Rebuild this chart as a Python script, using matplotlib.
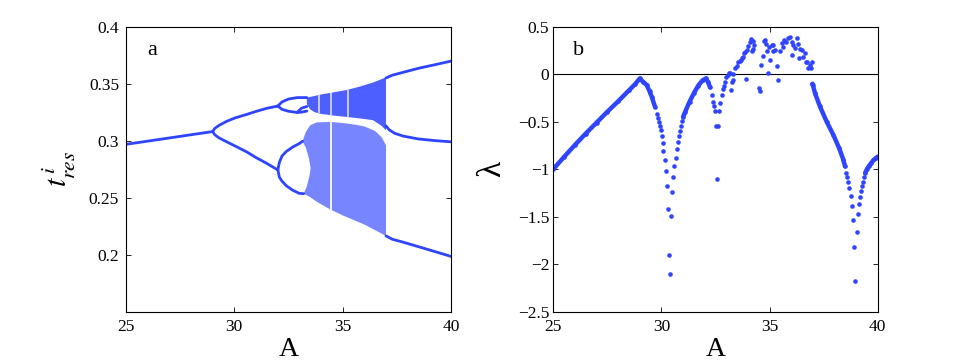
import matplotlib
matplotlib.use('Agg')
import matplotlib.pyplot as plt
import numpy as np
from matplotlib.ticker import FuncFormatter

plt.rcParams['font.family'] = ['Liberation Serif', 'DejaVu Serif']
plt.rcParams['mathtext.fontset'] = 'stix'

BLUE = '#2e44ff'

# ---- panel a : bifurcation diagram (A, t_res) ----
p1_A = [25, 26, 27, 28, 29]
p1_v = [0.2968, 0.2996, 0.3024, 0.3052, 0.308]

p2_up_A = [29, 29.1, 29.3, 29.65, 30.04, 30.58, 31.01, 31.5, 32.01]
p2_up_v = [0.308, 0.3108, 0.3135, 0.3170, 0.3200, 0.3231, 0.3257, 0.3284, 0.3304]
p2_lo_A = [29, 29.1, 29.3, 29.65, 30.04, 30.58, 31.01, 31.5, 32.01]
p2_lo_v = [0.308, 0.3052, 0.3024, 0.2990, 0.2953, 0.2901, 0.2851, 0.2801, 0.2743]

# period 4 near the upper branch (little loop)
p4a_up_A = [32.01, 32.2, 32.5, 32.9, 33.35]
p4a_up_v = [0.3304, 0.3340, 0.3365, 0.3378, 0.3378]
p4a_lo_A = [32.01, 32.2, 32.5, 32.9, 33.1, 33.35]
p4a_lo_v = [0.3304, 0.3275, 0.3258, 0.3248, 0.3250, 0.3260]
p8a_A = [32.9, 33.1, 33.35]
p8a_v = [0.3248, 0.3285, 0.3300]

# period 4 near the lower branch
p4b_up_A = [32.01, 32.08, 32.2, 32.4, 32.7, 33.0, 33.15]
p4b_up_v = [0.2745, 0.2810, 0.2865, 0.2905, 0.2945, 0.2975, 0.2995]
p4b_lo_A = [32.01, 32.08, 32.2, 32.4, 32.7, 33.0, 33.2]
p4b_lo_v = [0.2745, 0.2680, 0.2645, 0.2605, 0.2565, 0.2538, 0.2535]

# chaotic bands (outlines)
ub_top_A = [33.35, 33.6, 34.0, 34.6, 35.2, 35.8, 36.4, 37.0]
ub_top_v = [0.3378, 0.3388, 0.3405, 0.3425, 0.3445, 0.3475, 0.3510, 0.3555]
ub_bot_A = [33.35, 33.5, 33.7, 34.0, 34.6, 35.2, 35.8, 36.4, 36.8, 37.0]
ub_bot_v = [0.3320, 0.3275, 0.3250, 0.3235, 0.3220, 0.3208, 0.3195, 0.3180, 0.3130, 0.3090]

lb_top_A = [33.15, 33.3, 33.5, 33.8, 34.4, 35.0, 35.6, 36.0, 36.5, 36.8, 37.0]
lb_top_v = [0.2995, 0.3075, 0.3135, 0.3160, 0.3165, 0.3155, 0.3140, 0.3125, 0.3085, 0.3030, 0.2960]
lb_bot_A = [33.2, 33.5, 33.8, 34.4, 35.0, 35.5, 36.0, 36.5, 37.0]
lb_bot_v = [0.2535, 0.2505, 0.2465, 0.2400, 0.2345, 0.2305, 0.2265, 0.2215, 0.2165]
lb_left_A = [33.2, 33.35, 33.48, 33.52, 33.45, 33.3, 33.15]
lb_left_v = [0.2535, 0.2600, 0.2700, 0.2760, 0.2840, 0.2940, 0.2995]

# periodic windows (white stripes in the bands)
win_up_A = [33.9, 34.47, 35.27]
win_up_lo = [0.3240, 0.3225, 0.3212]
win_up_hi = [0.3400, 0.3425, 0.3448]
win_lo_A = [34.47]
win_lo_lo = [0.2395]
win_lo_hi = [0.3165]

# period 3 after the crisis
p3_top_A = [37.0, 37.3, 37.7, 38.5, 39.3, 40.0]
p3_top_v = [0.3550, 0.3575, 0.3595, 0.3635, 0.3668, 0.3698]
p3_mid_A = [37.0, 37.15, 37.4, 37.8, 38.5, 39.3, 40.0]
p3_mid_v = [0.3130, 0.3095, 0.3065, 0.3040, 0.3015, 0.3000, 0.2990]
p3_bot_A = [37.0, 37.3, 37.7, 38.5, 39.3, 40.0]
p3_bot_v = [0.2165, 0.2135, 0.2115, 0.2070, 0.2025, 0.1985]

# ---- panel b : Lyapunov exponent ----
dense1_A = [25, 25.5, 26, 26.5, 27, 27.5, 28, 28.5, 28.8, 29.0, 29.15, 29.32, 29.45, 29.55, 29.7]
dense1_l = [-1.0, -0.87, -0.745, -0.625, -0.51, -0.395, -0.285, -0.17, -0.1, -0.045, -0.08, -0.114, -0.18, -0.237, -0.342]
dense2_A = [31.0, 31.1, 31.3, 31.5, 31.7, 31.9, 32.05, 32.15, 32.25]
dense2_l = [-0.45, -0.395, -0.29, -0.2, -0.12, -0.065, -0.045, -0.08, -0.14]
dense3_A = [36.98, 37.0, 37.1, 37.33, 37.64, 37.95, 38.22, 38.41, 38.49]
dense3_l = [-0.10, -0.114, -0.2, -0.34, -0.5, -0.64, -0.78, -0.90, -0.97]
dense4_A = [39.42, 39.5, 39.6, 39.7, 39.8, 39.9, 40.0]
dense4_l = [-1.04, -1.0, -0.965, -0.935, -0.905, -0.885, -0.868]

sparse_pts = [
    (29.78, -0.42), (29.83, -0.46), (29.88, -0.50), (29.93, -0.545), (29.97, -0.59),
    (30.01, -0.65), (30.06, -0.72), (30.09, -0.805), (30.15, -0.90), (30.21, -1.02),
    (30.27, -1.18), (30.32, -1.42), (30.36, -1.90), (30.41, -2.10),
    (30.44, -1.49), (30.50, -1.24), (30.55, -1.08), (30.59, -0.97), (30.66, -0.88),
    (30.70, -0.79), (30.75, -0.71), (30.80, -0.65), (30.84, -0.595), (30.89, -0.545),
    (30.95, -0.495),
    (32.32, -0.22), (32.38, -0.29), (32.44, -0.33), (32.49, -0.39), (32.54, -0.55),
    (32.59, -1.10), (32.63, -0.545), (32.68, -0.39), (32.73, -0.30), (32.78, -0.22),
    (32.83, -0.16), (32.88, -0.12), (32.94, -0.08), (33.0, -0.03), (33.06, -0.01),
    (33.12, 0.01),
]
chaos_pts = [
    (33.17, 0.01), (33.22, -0.166), (33.25, -0.08), (33.29, -0.06), (33.32, 0.0),
    (33.40, 0.06), (33.48, 0.09), (33.55, 0.125), (33.62, 0.14), (33.66, 0.15),
    (33.71, 0.167), (33.76, 0.184), (33.83, 0.22), (33.88, 0.23), (33.91, -0.05),
    (33.94, 0.255), (34.02, 0.30), (34.09, 0.342), (34.14, 0.37), (34.17, 0.244),
    (34.22, 0.35), (34.25, 0.265), (34.29, 0.307), (34.52, -0.142), (34.56, -0.177),
    (34.60, 0.097), (34.68, 0.195), (34.75, 0.35), (34.79, 0.36), (34.82, 0.315),
    (34.87, 0.244), (34.94, 0.01), (34.99, 0.29), (35.02, 0.15), (35.10, 0.307),
    (35.14, 0.244), (35.17, 0.307), (35.25, 0.255), (35.33, 0.086), (35.40, -0.06),
    (35.48, 0.244), (35.56, 0.325), (35.64, 0.29), (35.67, 0.36), (35.76, 0.335),
    (35.86, 0.378), (35.94, 0.395), (36.02, 0.342), (36.05, 0.20), (36.10, 0.307),
    (36.17, 0.273), (36.25, 0.378), (36.33, 0.315), (36.38, 0.17), (36.41, 0.265),
    (36.48, 0.254), (36.56, 0.184), (36.64, 0.22), (36.68, 0.13), (36.72, 0.13),
    (36.79, 0.062), (36.87, 0.096), (36.92, 0.06), (36.96, 0.13),
]
sparse3_pts = [
    (38.53, -1.037), (38.59, -1.08), (38.64, -1.13), (38.69, -1.195), (38.75, -1.28),
    (38.80, -1.387), (38.84, -1.54), (38.90, -1.82), (38.96, -2.18),
    (39.03, -1.66), (39.07, -1.47), (39.12, -1.37), (39.17, -1.29), (39.21, -1.23),
    (39.26, -1.18), (39.30, -1.13), (39.36, -1.085),
]


def style_axes(ax, pad):
    ax.tick_params(direction='in', top=True, right=True, length=3.5, width=0.6,
                   labelsize=12.5, pad=pad)
    for s in ax.spines.values():
        s.set_linewidth(0.8)
    ax.yaxis.set_major_formatter(FuncFormatter(lambda v, p: f'{v:g}'.replace('-', '\u2212')))
    ax.xaxis.set_major_formatter(FuncFormatter(lambda v, p: f'{v:g}'))


fig = plt.figure(figsize=(9.69, 3.64), dpi=100)
ax1 = fig.add_axes([0.1300, 0.1437, 0.3354, 0.7830])
ax2 = fig.add_axes([0.5710, 0.1437, 0.3348, 0.7830])

# panel a
lw = 2.0
for A, v in [(p1_A, p1_v), (p2_up_A, p2_up_v), (p2_lo_A, p2_lo_v),
             (p4a_up_A, p4a_up_v), (p4a_lo_A, p4a_lo_v), (p8a_A, p8a_v),
             (p4b_up_A, p4b_up_v), (p4b_lo_A, p4b_lo_v),
             (p3_top_A, p3_top_v), (p3_mid_A, p3_mid_v), (p3_bot_A, p3_bot_v)]:
    ax1.plot(A, v, color=BLUE, lw=lw, solid_capstyle='round', solid_joinstyle='round')

ub_x = ub_top_A + ub_bot_A[::-1]
ub_y = ub_top_v + ub_bot_v[::-1]
ax1.fill(ub_x, ub_y, color=BLUE, alpha=0.85, lw=0)
lb_x = lb_top_A + lb_bot_A[::-1] + lb_left_A
lb_y = lb_top_v + lb_bot_v[::-1] + lb_left_v
ax1.fill(lb_x, lb_y, color=BLUE, alpha=0.65, lw=0)
ax1.vlines(win_up_A, win_up_lo, win_up_hi, color='white', lw=1.2, alpha=0.8)
ax1.vlines(win_lo_A, win_lo_lo, win_lo_hi, color='white', lw=1.4, alpha=0.9)

ax1.set_xlim(25, 40)
ax1.set_ylim(0.15, 0.4)
ax1.set_xticks([25, 30, 35, 40])
ax1.set_yticks([0.2, 0.25, 0.3, 0.35, 0.4])
style_axes(ax1, 5)
ax1.set_xlabel('A', fontsize=20, labelpad=2)
ax1.set_ylabel(r'$t^{\,i}_{res}$', fontsize=22, labelpad=8)
ax1.text(0.064, 0.90, 'a', transform=ax1.transAxes, fontsize=16, va='baseline')

# panel b
ax2.axhline(0, color='k', lw=0.8, zorder=1)
ms = 3.3
for A, l in [(dense1_A, dense1_l), (dense2_A, dense2_l), (dense3_A, dense3_l), (dense4_A, dense4_l)]:
    ax2.plot(A, l, color=BLUE, lw=3.2, solid_capstyle='round', marker='o', ms=ms, mew=0)
for pts in [sparse_pts, chaos_pts, sparse3_pts]:
    arr = np.array(pts)
    ax2.plot(arr[:, 0], arr[:, 1], 'o', color=BLUE, ms=ms, mew=0)

ax2.set_xlim(25, 40)
ax2.set_ylim(-2.5, 0.5)
ax2.set_xticks([25, 30, 35, 40])
ax2.set_yticks([-2.5, -2, -1.5, -1, -0.5, 0, 0.5])
style_axes(ax2, 3)
ax2.tick_params(axis='x', pad=5)
ax2.set_xlabel('A', fontsize=20, labelpad=2)
ax2.set_ylabel('\u03bb', fontsize=24, labelpad=8)
ax2.text(0.062, 0.90, 'b', transform=ax2.transAxes, fontsize=16, va='baseline')

fig.savefig('out.png', dpi=100)
